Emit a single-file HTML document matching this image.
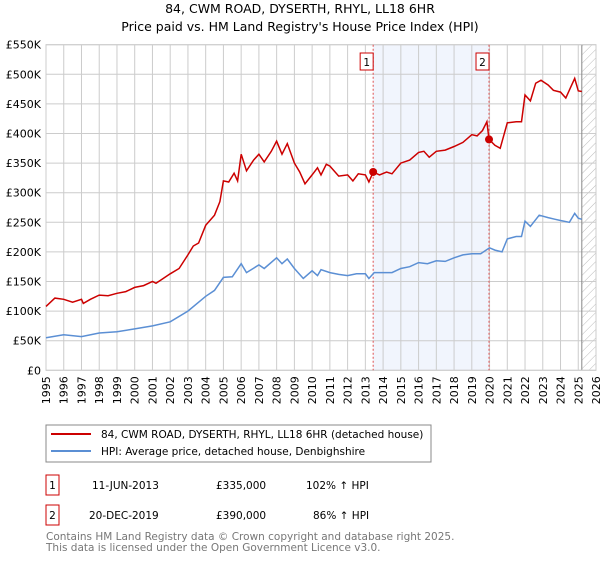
<!DOCTYPE html>
<html><head><meta charset="utf-8"><style>
body{margin:0;background:#fff;font-family:"Liberation Sans","DejaVu Sans",sans-serif;}
</style></head><body>
<svg width="600" height="560" xmlns="http://www.w3.org/2000/svg" font-family="DejaVu Sans, Liberation Sans, sans-serif">
<text x="300" y="13" text-anchor="middle" font-size="12.5">84, CWM ROAD, DYSERTH, RHYL, LL18 6HR</text>
<text x="300" y="31" text-anchor="middle" font-size="12.5">Price paid vs. HM Land Registry's House Price Index (HPI)</text>
<defs><pattern id="hatch" width="6" height="6" patternUnits="userSpaceOnUse" patternTransform="rotate(45)"><line x1="0" y1="0" x2="0" y2="6" stroke="#bbb" stroke-width="1"/></pattern></defs>
<g id="plot"></g>
<rect x="46" y="425" width="385" height="37" fill="none" stroke="#888"/>
<line x1="51" y1="434" x2="91" y2="434" stroke="#cc0000" stroke-width="2"/>
<text x="101" y="438" font-size="10.5">84, CWM ROAD, DYSERTH, RHYL, LL18 6HR (detached house)</text>
<line x1="51" y1="451" x2="91" y2="451" stroke="#5b8fd4" stroke-width="2"/>
<text x="101" y="455" font-size="10.5">HPI: Average price, detached house, Denbighshire</text>
<rect x="46" y="475" width="13" height="20" fill="none" stroke="#cc0000"/>
<text x="52.5" y="489" font-size="10.5" text-anchor="middle">1</text>
<text x="92" y="489" font-size="10.5">11-JUN-2013</text>
<text x="216" y="489" font-size="10.5">£335,000</text>
<text x="306" y="489" font-size="10.5">102% ↑ HPI</text>
<rect x="46" y="505" width="13" height="20" fill="none" stroke="#cc0000"/>
<text x="52.5" y="519" font-size="10.5" text-anchor="middle">2</text>
<text x="89" y="519" font-size="10.5">20-DEC-2019</text>
<text x="216" y="519" font-size="10.5">£390,000</text>
<text x="313" y="519" font-size="10.5">86% ↑ HPI</text>
<text x="46" y="540" font-size="10.5" fill="#777">Contains HM Land Registry data © Crown copyright and database right 2025.</text>
<text x="46" y="551" font-size="10.5" fill="#777">This data is licensed under the Open Government Licence v3.0.</text>
</svg>
<script>
const yTicks=[0,50,100,150,200,250,300,350,400,450,500,550];
const yTickLabels=["£0","£50K","£100K","£150K","£200K","£250K","£300K","£350K","£400K","£450K","£500K","£550K"];
const xYears=[1995,1996,1997,1998,1999,2000,2001,2002,2003,2004,2005,2006,2007,2008,2009,2010,2011,2012,2013,2014,2015,2016,2017,2018,2019,2020,2021,2022,2023,2024,2025,2026];
const redT=[1995,1995.5,1996,1996.5,1997,1997.1,1997.5,1998,1998.5,1999,1999.5,2000,2000.5,2001,2001.2,2001.5,2002,2002.5,2003,2003.3,2003.6,2004,2004.5,2004.8,2005,2005.3,2005.6,2005.8,2006,2006.3,2006.7,2007,2007.3,2007.7,2008,2008.3,2008.6,2009,2009.3,2009.6,2010,2010.3,2010.5,2010.8,2011,2011.5,2012,2012.3,2012.6,2013,2013.2,2013.44,2013.8,2014.2,2014.5,2015,2015.5,2016,2016.3,2016.6,2017,2017.5,2018,2018.5,2019,2019.3,2019.6,2019.85,2019.97,2020.3,2020.6,2021,2021.5,2021.8,2022,2022.3,2022.6,2022.9,2023.3,2023.6,2024,2024.3,2024.6,2024.8,2025,2025.2];
const redV=[108,122,120,115,120,113,120,127,126,130,133,140,143,150,147,153,163,172,195,210,215,245,262,285,320,318,333,320,365,337,355,365,352,370,387,365,383,350,335,315,330,342,330,348,345,328,330,320,332,330,318,335,330,335,332,350,355,368,370,360,370,372,378,385,398,396,405,420,390,380,375,418,420,420,465,455,485,490,482,473,470,460,480,493,472,471];
const blueT=[1995,1996,1997,1998,1999,2000,2001,2002,2003,2004,2004.5,2005,2005.5,2006,2006.3,2007,2007.3,2008,2008.3,2008.6,2009,2009.5,2010,2010.3,2010.5,2011,2011.5,2012,2012.5,2013,2013.2,2013.5,2014,2014.5,2015,2015.5,2016,2016.5,2017,2017.5,2018,2018.5,2019,2019.5,2020,2020.3,2020.7,2021,2021.5,2021.8,2022,2022.3,2022.8,2023.3,2023.7,2024,2024.5,2024.8,2025,2025.2];
const blueV=[55,60,57,63,65,70,75,82,100,125,135,157,158,180,165,178,172,190,180,188,172,155,168,160,170,165,162,160,163,163,155,165,165,165,172,175,182,180,185,184,190,195,197,197,207,203,200,222,226,226,252,243,262,258,255,253,250,265,257,255];
const sales=[{t:2013.44,v:335,label:"1"},{t:2019.97,v:390,label:"2"}];
const X0=46,X1=596,Y0=370.3,Y1=44.7;
const x=t=>X0+(t-1995)/(2026-1995)*(X1-X0);
const y=v=>Y0-v/550*(Y0-Y1);
const NS="http://www.w3.org/2000/svg";
const g=document.getElementById('plot');
function mk(tag,attrs,name){const e=document.createElementNS(NS,tag);for(const k in attrs)e.setAttribute(k,attrs[k]);


g.appendChild(e);return e;}
mk('rect',{x:x(sales[0].t),y:Y1,width:x(sales[1].t)-x(sales[0].t),height:Y0-Y1,fill:'#eef3fc',opacity:0.8},'sale-period-band');
mk('rect',{x:x(2025.2),y:Y1,width:X1-x(2025.2),height:Y0-Y1,fill:'url(#hatch)'},'future-hatch');
yTicks.forEach((v,i)=>{mk('line',{x1:X0,x2:X1,y1:y(v),y2:y(v),stroke:'#ccc'},'y-gridline');
const t=mk('text',{x:X0-5,y:y(v)+4,'text-anchor':'end','font-size':11},'y-tick-label');t.textContent=yTickLabels[i];});
xYears.forEach(yr=>{mk('line',{x1:x(yr),x2:x(yr),y1:Y1,y2:Y0,stroke:'#ccc'},'x-gridline');
const t=mk('text',{x:0,y:0,'text-anchor':'end','font-size':11,transform:`translate(${x(yr)+4},${Y0+6}) rotate(-90)`},'x-tick-label');t.textContent=yr;});
mk('line',{x1:x(2025.2),x2:x(2025.2),y1:Y1,y2:Y0,stroke:'#888'},'data-end-line');
mk('rect',{x:X0,y:Y1,width:X1-X0,height:Y0-Y1,fill:'none',stroke:'#ccc'},'plot-border');
sales.forEach(s=>{mk('line',{x1:x(s.t),x2:x(s.t),y1:Y1,y2:Y0,stroke:'#e05050','stroke-dasharray':'2,2'},'sale-vline');});
const path=(T,V)=>T.map((t,i)=>(i?'L':'M')+x(t).toFixed(1)+','+y(V[i]).toFixed(1)).join('');
mk('path',{d:path(blueT,blueV),fill:'none',stroke:'#5b8fd4','stroke-width':1.5},'hpi-line');
mk('path',{d:path(redT,redV),fill:'none',stroke:'#cc0000','stroke-width':1.5},'property-price-line');
sales.forEach(s=>{mk('circle',{cx:x(s.t),cy:y(s.v),r:4,fill:'#cc0000'},'sale-point');
mk('rect',{x:x(s.t)-13,y:53,width:13,height:17,fill:'#fff',stroke:'#cc0000'},'sale-marker-box');
const t=mk('text',{x:x(s.t)-6.5,y:66,'text-anchor':'middle','font-size':10.5},'sale-marker-label');t.textContent=s.label;});
</script>
</body></html>
